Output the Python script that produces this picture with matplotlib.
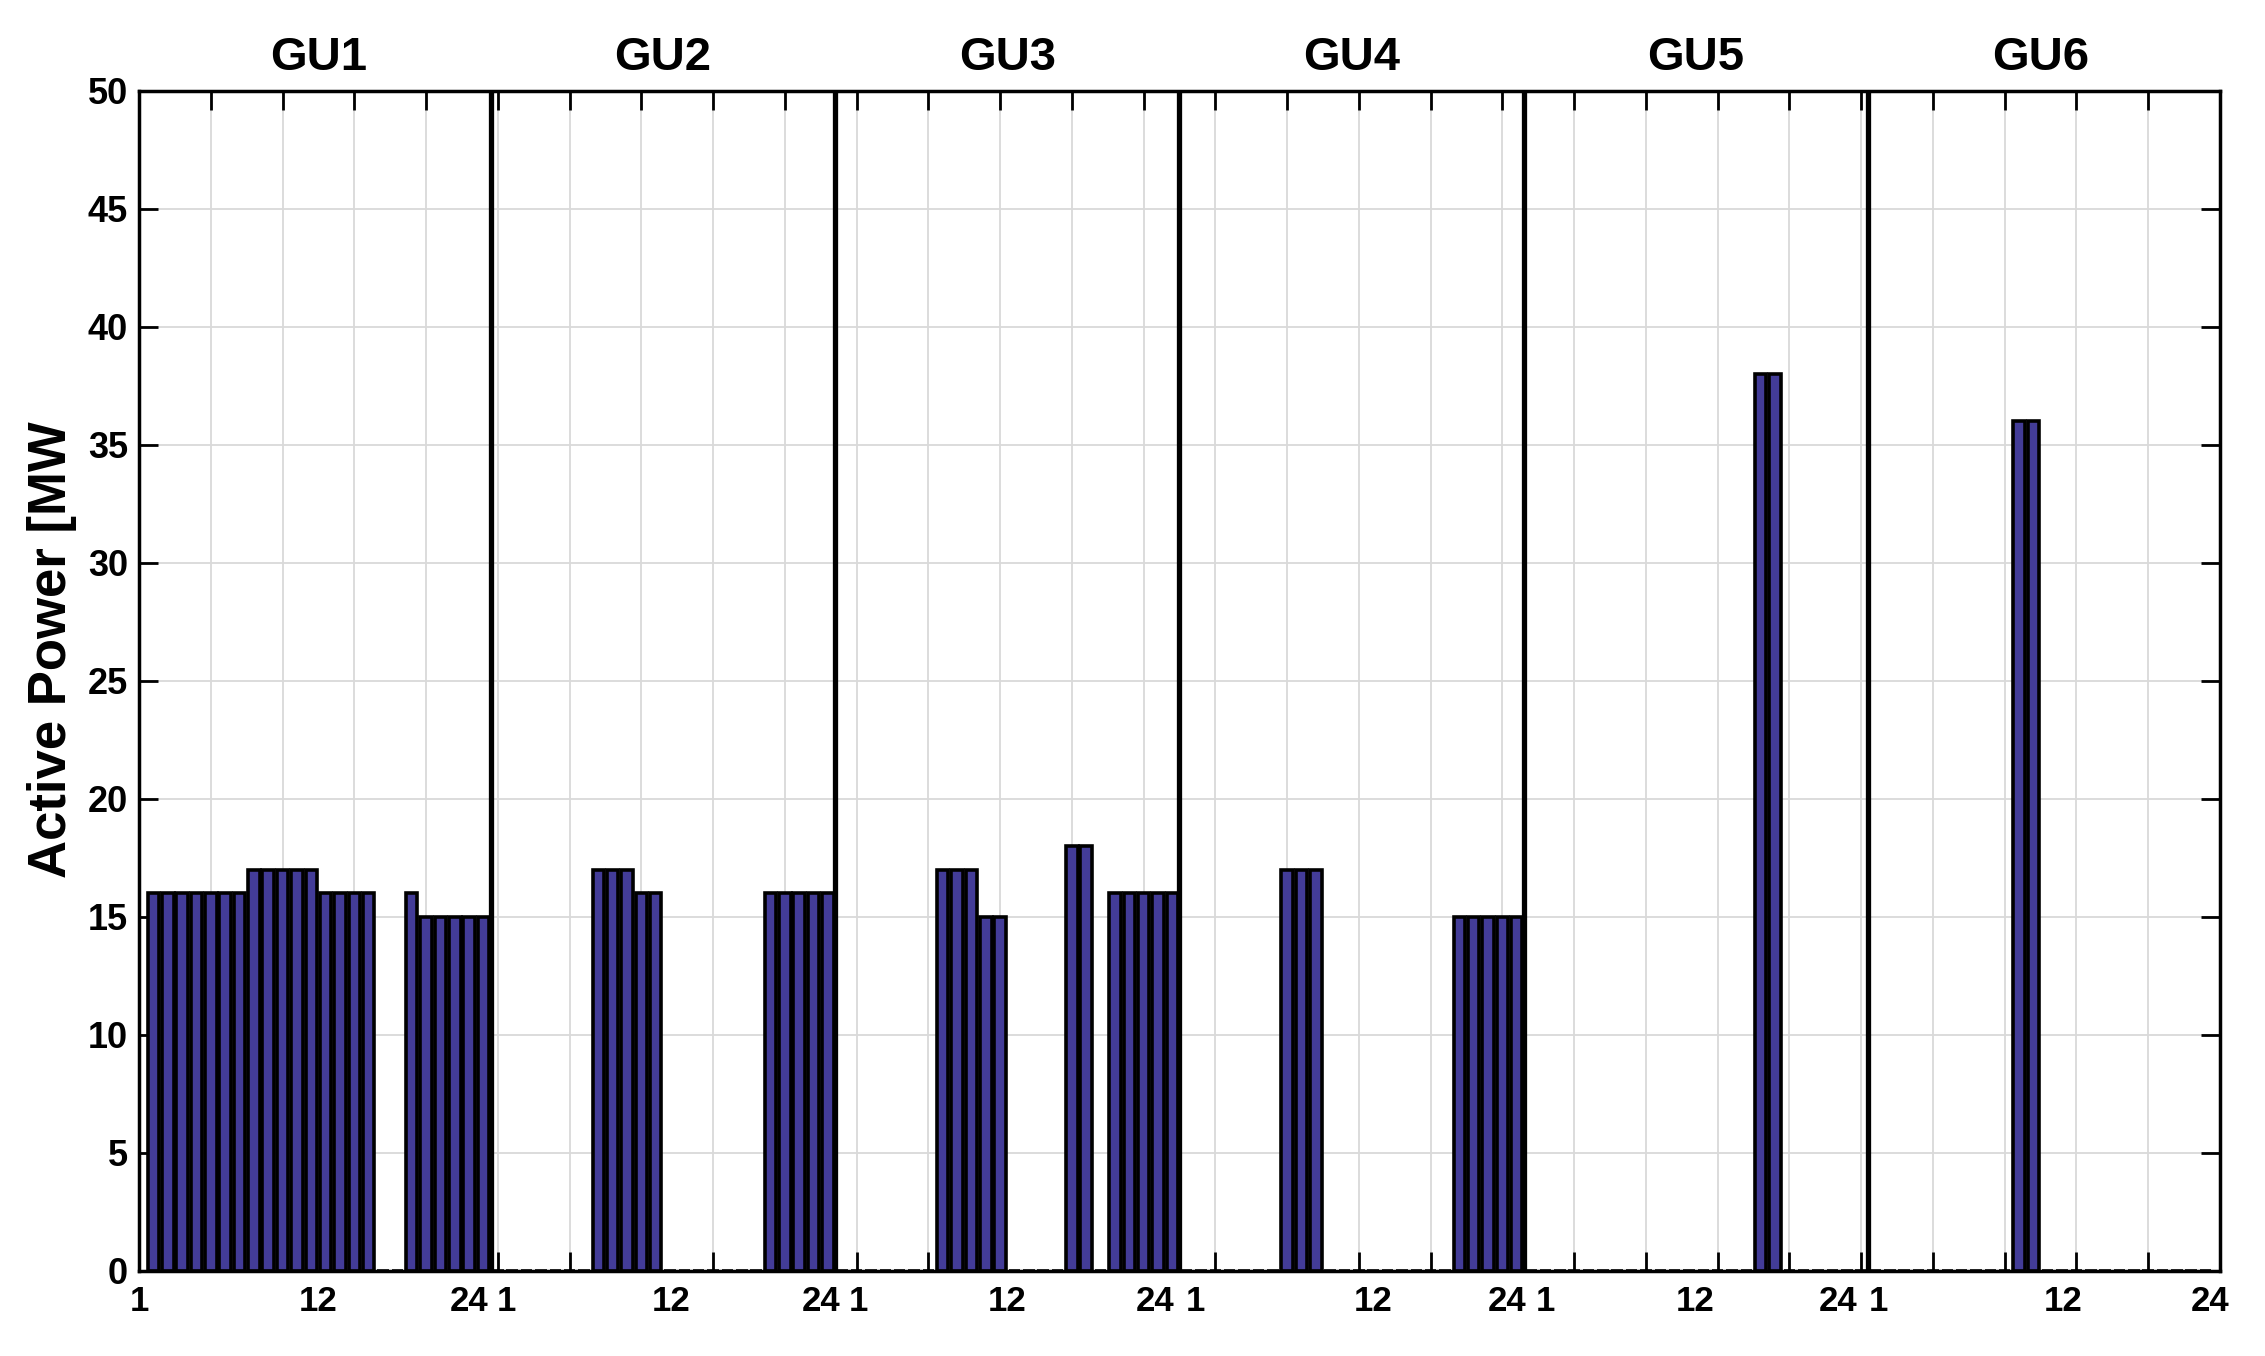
import numpy as np
import matplotlib
matplotlib.use("Agg")
import matplotlib.pyplot as plt
from matplotlib import font_manager

# hourly active power of each generating unit [MW]
hours = np.arange(1, 25)
units = ["GU1", "GU2", "GU3", "GU4", "GU5", "GU6"]
gu1 = [16, 16, 16, 16, 16, 16, 16, 17, 17, 17, 17, 17, 16, 16, 16, 16, 0, 0, 16, 15, 15, 15, 15, 15]
gu2 = [0, 0, 0, 0, 0, 0, 0, 17, 17, 17, 16, 16, 0, 0, 0, 0, 0, 0, 0, 16, 16, 16, 16, 16]
gu3 = [0, 0, 0, 0, 0, 0, 0, 17, 17, 17, 15, 15, 0, 0, 0, 0, 18, 18, 0, 16, 16, 16, 16, 16]
gu4 = [0, 0, 0, 0, 0, 0, 0, 17, 17, 17, 0, 0, 0, 0, 0, 0, 0, 0, 0, 15, 15, 15, 15, 15]
gu5 = [0, 0, 0, 0, 0, 0, 0, 0, 0, 0, 0, 0, 0, 0, 0, 0, 38, 38, 0, 0, 0, 0, 0, 0]
gu6 = [0, 0, 0, 0, 0, 0, 0, 0, 0, 0, 36, 36, 0, 0, 0, 0, 0, 0, 0, 0, 0, 0, 0, 0]
hour_labels = ["1", "12", "24"]

# where the hour labels sit on the joined axis (layout only)
label_pos = [0.0, 12.5, 23.0, 25.6, 37.1, 47.5, 50.1, 60.5, 70.8,
             73.6, 86.0, 95.3, 98.0, 108.4, 118.4, 121.2, 134.1, 144.3]

# narrow bold face if present, the picture text looks condensed
try:
    font_manager.findfont("Liberation Sans Narrow", fallback_to_default=False)
    narrow = "Liberation Sans Narrow"
except Exception:
    narrow = "Liberation Sans"

plt.rcParams["font.family"] = ["Liberation Sans", "DejaVu Sans"]

fig = plt.figure(figsize=(22.65, 13.56), dpi=100)
ax = fig.add_axes([0.0614, 0.0627, 0.9187, 0.8703])

series = [gu1, gu2, gu3, gu4, gu5, gu6]
for k, vals in enumerate(series):
    ax.bar(hours + 24 * k, vals, width=0.8, color="#433c98",
           edgecolor="black", linewidth=2.6, zorder=2)
    ax.text(12.5 + 24 * k, 50.9, units[k], ha="center", va="baseline",
            fontsize=34, fontweight="bold", family=narrow)

for k in range(1, 6):
    ax.axvline(24 * k + 0.5, color="black", lw=3.8, zorder=3)

ax.set_xlim(0, 145)
ax.set_ylim(0, 50)
ax.set_xticks(np.arange(5, 145, 5))
ax.set_xticklabels([])
ax.set_xticks(label_pos, minor=True)
ax.set_xticklabels(hour_labels * 6, minor=True, fontsize=25,
                   fontweight="bold", family=narrow)
ax.set_yticks(np.arange(0, 51, 5))
ax.set_yticklabels([str(v) for v in range(0, 51, 5)], fontsize=26,
                   fontweight="bold", family=narrow)

ax.tick_params(which="major", direction="in", length=14, width=2,
               top=True, right=True)
ax.tick_params(axis="x", which="minor", length=0, pad=10)
ax.tick_params(axis="y", pad=8)

ax.grid(True, which="major", color="#d9d9d9", lw=1.3)
ax.set_axisbelow(True)
for sp in ax.spines.values():
    sp.set_linewidth(2.5)

fig.text(52 / 2265, 0.521, "Active Power [MW", rotation=90, ha="center",
         va="center", fontsize=38, fontweight="bold")

fig.savefig("out.png", dpi=100)
